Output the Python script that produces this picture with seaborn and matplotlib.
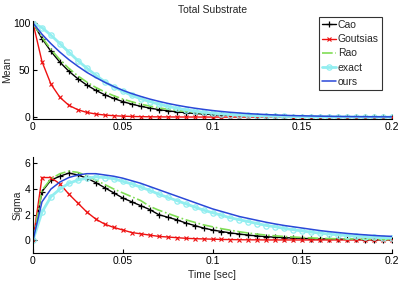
import numpy as np
import pandas as pd
import matplotlib
matplotlib.use("Agg")
import matplotlib.pyplot as plt
import seaborn as sns

# time grid (sec), one sample per 0.005 s
time_sec = [round(i * 0.005, 3) for i in range(41)]

methods = ["Cao", "Goutsias", "Rao", "exact", "ours"]

# Mean of total substrate
mean_cao = [100, 83.5, 69.8, 58.3, 48.7, 40.7, 34.0, 28.4, 23.7, 19.8, 16.5, 13.8, 11.5, 9.6,
            8.0, 6.7, 5.6, 4.7, 3.9, 3.3, 2.7, 2.3, 1.9, 1.6, 1.3, 1.1, 0.9, 0.8, 0.65, 0.55,
            0.45, 0.4, 0.3, 0.25, 0.2, 0.2, 0.15, 0.13, 0.1, 0.1, 0.08]
mean_goutsias = [100, 59, 35, 21, 12.5, 7.8, 5.0, 3.3, 2.2, 1.5, 1.0, 0.7, 0.5, 0.35, 0.25,
                 0.2, 0.15, 0.1, 0.1, 0.05, 0.05, 0.04, 0.03, 0.03, 0.02, 0.02, 0.02, 0.01,
                 0.01, 0.01, 0.01, 0.01, 0.0, 0.0, 0.0, 0.0, 0.0, 0.0, 0.0, 0.0, 0.0]
mean_rao = [100, 84.8, 71.9, 61.0, 51.7, 43.8, 37.2, 31.5, 26.7, 22.7, 19.2, 16.3, 13.8, 11.7,
            9.9, 8.4, 7.1, 6.1, 5.1, 4.4, 3.7, 3.1, 2.7, 2.2, 1.9, 1.6, 1.4, 1.2, 1.0, 0.85,
            0.72, 0.6, 0.52, 0.44, 0.37, 0.32, 0.27, 0.23, 0.19, 0.16, 0.14]
mean_exact = [100, 95, 87, 78, 69, 60, 52, 44.5, 37.5, 32, 27.5, 23, 19.5, 16.5, 13.8, 11.5,
              9.5, 7.8, 6.4, 5.2, 4.2, 3.4, 2.7, 2.2, 1.8, 1.4, 1.1, 0.9, 0.7, 0.55, 0.45,
              0.35, 0.28, 0.22, 0.18, 0.14, 0.11, 0.09, 0.07, 0.06, 0.05]
mean_ours = [100, 88, 78, 69, 61, 54, 47.5, 42, 37, 32.5, 28.5, 25, 22, 19.2, 16.8, 14.6, 12.7,
             11, 9.5, 8.2, 7.0, 6.0, 5.1, 4.4, 3.7, 3.2, 2.7, 2.3, 1.9, 1.6, 1.4, 1.2, 1.0,
             0.85, 0.7, 0.6, 0.5, 0.42, 0.35, 0.3, 0.25]

# Sigma of total substrate
sigma_cao = [0, 3.8, 4.7, 5.0, 5.25, 5.1, 4.85, 4.5, 4.1, 3.7, 3.3, 3.0, 2.7, 2.4, 2.0, 1.8,
             1.6, 1.35, 1.15, 0.95, 0.8, 0.68, 0.57, 0.48, 0.4, 0.33, 0.28, 0.23, 0.2, 0.17,
             0.14, 0.12, 0.1, 0.09, 0.08, 0.07, 0.06, 0.05, 0.05, 0.04, 0.04]
sigma_goutsias = [0, 4.9, 4.9, 4.4, 3.6, 2.9, 2.2, 1.65, 1.25, 1.0, 0.8, 0.6, 0.5, 0.4, 0.3,
                  0.25, 0.2, 0.15, 0.12, 0.1, 0.08, 0.06, 0.05, 0.04, 0.03, 0.03, 0.02, 0.02,
                  0.02, 0.02, 0.02, 0.02, 0.02, 0.02, 0.02, 0.02, 0.02, 0.02, 0.02, 0.02, 0.02]
sigma_rao = [0, 3.9, 4.8, 5.2, 5.4, 5.3, 5.05, 4.7, 4.35, 4.0, 3.7, 3.4, 3.1, 2.65, 2.35, 2.1,
             1.85, 1.6, 1.4, 1.2, 1.05, 0.9, 0.78, 0.66, 0.56, 0.47, 0.4, 0.34, 0.29, 0.25,
             0.21, 0.18, 0.15, 0.13, 0.11, 0.1, 0.09, 0.08, 0.07, 0.06, 0.05]
sigma_exact = [0, 2.2, 3.4, 4.0, 4.45, 4.7, 4.85, 4.95, 4.9, 4.8, 4.6, 4.4, 4.15, 3.9, 3.6,
               3.35, 3.1, 2.85, 2.6, 2.35, 2.15, 1.95, 1.75, 1.6, 1.45, 1.3, 1.15, 1.05, 0.92,
               0.82, 0.72, 0.63, 0.55, 0.48, 0.42, 0.36, 0.31, 0.27, 0.23, 0.2, 0.17]
sigma_ours = [0, 3.0, 4.0, 4.55, 4.9, 5.1, 5.2, 5.2, 5.1, 5.0, 4.85, 4.65, 4.45, 4.2, 3.95,
              3.7, 3.45, 3.2, 2.95, 2.7, 2.45, 2.25, 2.05, 1.85, 1.7, 1.55, 1.4, 1.27, 1.15,
              1.05, 0.95, 0.85, 0.75, 0.67, 0.6, 0.53, 0.47, 0.42, 0.37, 0.33, 0.3]

x_ticks = [0, 0.05, 0.1, 0.15, 0.2]
x_ticklabels = ["0", "0.05", "0.1", "0.15", "0.2"]
mean_ticks = [0, 50, 100]
sigma_ticks = [0, 2, 4, 6]

# MATLAB-like line specs, applied to the lines seaborn draws
# (seaborn defaults markeredgecolor to white, so set it explicitly)
STYLES = {
    "Cao": dict(color="black", linestyle="-", linewidth=1.0, marker="+", markersize=4.5,
                markeredgewidth=0.9, markeredgecolor="black"),
    "Goutsias": dict(color="#ee1111", linestyle="-", linewidth=1.0, marker="x", markersize=3,
                     markeredgewidth=0.8, markeredgecolor="#ee1111"),
    "Rao": dict(color="#80dd55", linestyle="-.", linewidth=1.2, marker="None"),
    "exact": dict(color="#92eef0", linestyle="-", linewidth=2.0, marker="o", markersize=3.8,
                  markerfacecolor="none", markeredgewidth=0.9, markeredgecolor="#92eef0"),
    "ours": dict(color="#2a48d8", linestyle="-", linewidth=1.1, marker="None"),
}

sns.set_theme(style="ticks")
plt.rcParams["font.family"] = ["Liberation Sans", "DejaVu Sans"]
plt.rcParams["xtick.direction"] = "in"
plt.rcParams["ytick.direction"] = "in"

fig = plt.figure(figsize=(4.0, 2.83), dpi=100)
ax_mean = fig.add_axes([0.0825, 0.5795, 0.8975, 0.346])
ax_sigma = fig.add_axes([0.0825, 0.106, 0.8975, 0.339])

panels = [
    (ax_mean, [mean_cao, mean_goutsias, mean_rao, mean_exact, mean_ours]),
    (ax_sigma, [sigma_cao, sigma_goutsias, sigma_rao, sigma_exact, sigma_ours]),
]

for ax, series in panels:
    for name, vals in zip(methods, series):
        df = pd.DataFrame({"t": time_sec, "v": vals})
        sns.lineplot(data=df, x="t", y="v", ax=ax, color=STYLES[name]["color"], label=name)
        ax.lines[-1].set(**STYLES[name])
    ax.set_xlim(0, 0.2)
    ax.set_xticks(x_ticks)
    ax.set_xticklabels(x_ticklabels)
    ax.tick_params(labelsize=7.5, length=3, width=0.8, pad=2, colors="black")
    for s in ["top", "right"]:
        ax.spines[s].set_visible(False)
    for s in ["left", "bottom"]:
        ax.spines[s].set_color("black")
        ax.spines[s].set_linewidth(0.8)
    ax.set_xlabel("")
    if ax.get_legend() is not None:
        ax.get_legend().remove()

ax_mean.set_ylim(-2, 102)
ax_mean.set_yticks(mean_ticks)
ax_mean.set_ylabel("Mean", fontsize=7.5, labelpad=0.5)
ax_mean.set_title("Total Substrate", fontsize=7.5, pad=6)

ax_sigma.set_ylim(-1, 6.5)
ax_sigma.set_yticks(sigma_ticks)
ax_sigma.set_ylabel("Sigma", fontsize=7.5, labelpad=1)
ax_sigma.set_xlabel("Time [sec]", fontsize=7.5, labelpad=3)

handles = ax_mean.lines[:len(methods)]
leg = ax_mean.legend(handles, methods, loc="upper right", bbox_to_anchor=(0.955, 0.94),
                     bbox_transform=fig.transFigure, fontsize=7.5, frameon=True, fancybox=False,
                     edgecolor="black", handlelength=1.3, handletextpad=0.2, labelspacing=0.4,
                     borderpad=0.3, borderaxespad=0)
leg.get_frame().set_linewidth(0.8)

fig.savefig("out.png", dpi=100)
